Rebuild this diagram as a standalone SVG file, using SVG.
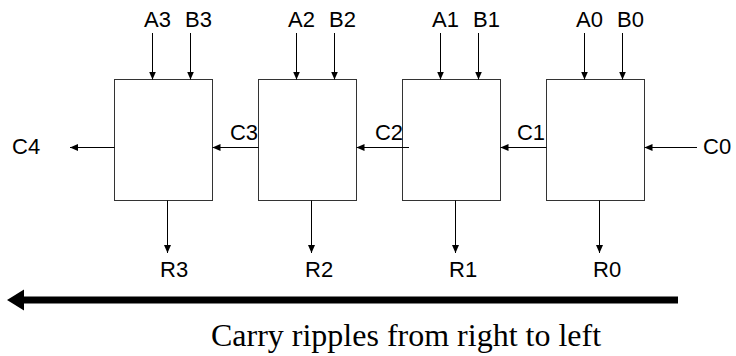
<svg xmlns="http://www.w3.org/2000/svg" width="736" height="356" viewBox="0 0 736 356">
  <defs>
    <marker id="arr" viewBox="0 0 8 8" refX="8" refY="4" markerWidth="8" markerHeight="7" markerUnits="userSpaceOnUse" orient="auto" preserveAspectRatio="none">
      <path d="M0,0 L8,4 L0,8 Z" fill="#000"/>
    </marker>
  </defs>
  <style>
    .box { fill: #fff; stroke: #333; stroke-width: 1; }
    .wire { stroke: #000; stroke-width: 1; fill: none; marker-end: url(#arr); }
    .lbl { font-family: "Liberation Sans", Arial, sans-serif; font-size: 22px; fill: #000; }
    .cap { font-family: "Liberation Serif", "Times New Roman", serif; font-size: 32px; fill: #000; }
  </style>

  <!-- adder stages, most significant on the left -->
  <g id="stage3">
    <rect class="box" x="114.5" y="79.5" width="98" height="121"/>
    <text class="lbl" x="144" y="27">A3</text>
    <text class="lbl" x="185" y="27">B3</text>
    <text class="lbl" x="160" y="277">R3</text>
  </g>
  <g id="stage2">
    <rect class="box" x="258.5" y="79.5" width="98" height="121"/>
    <text class="lbl" x="288" y="27">A2</text>
    <text class="lbl" x="329" y="27">B2</text>
    <text class="lbl" x="305" y="277">R2</text>
  </g>
  <g id="stage1">
    <rect class="box" x="402.5" y="79.5" width="98" height="121"/>
    <text class="lbl" x="432" y="27">A1</text>
    <text class="lbl" x="473" y="27">B1</text>
    <text class="lbl" x="449" y="277">R1</text>
  </g>
  <g id="stage0">
    <rect class="box" x="546.5" y="79.5" width="98" height="121"/>
    <text class="lbl" x="576" y="27">A0</text>
    <text class="lbl" x="617" y="27">B0</text>
    <text class="lbl" x="593" y="277">R0</text>
  </g>

  <!-- carry labels -->
  <g id="carry-labels">
    <text class="lbl" x="12" y="154">C4</text>
    <text class="lbl" x="258" y="140" text-anchor="end">C3</text>
    <text class="lbl" x="403" y="140" text-anchor="end">C2</text>
    <text class="lbl" x="545" y="140" text-anchor="end">C1</text>
    <text class="lbl" x="703" y="154">C0</text>
  </g>

  <!-- signal wires -->
  <g id="connectors">
    <!-- operand inputs -->
    <line class="wire" x1="152.5" y1="33" x2="152.5" y2="79.5"/>
    <line class="wire" x1="190.5" y1="33" x2="190.5" y2="79.5"/>
    <line class="wire" x1="296.5" y1="33" x2="296.5" y2="79.5"/>
    <line class="wire" x1="334.5" y1="33" x2="334.5" y2="79.5"/>
    <line class="wire" x1="440.5" y1="33" x2="440.5" y2="79.5"/>
    <line class="wire" x1="478.5" y1="33" x2="478.5" y2="79.5"/>
    <line class="wire" x1="584.5" y1="33" x2="584.5" y2="79.5"/>
    <line class="wire" x1="622.5" y1="33" x2="622.5" y2="79.5"/>
    <!-- result outputs -->
    <line class="wire" x1="167.5" y1="200.5" x2="167.5" y2="253"/>
    <line class="wire" x1="311.5" y1="200.5" x2="311.5" y2="253"/>
    <line class="wire" x1="455.5" y1="200.5" x2="455.5" y2="253"/>
    <line class="wire" x1="599.5" y1="200.5" x2="599.5" y2="253"/>
    <!-- carry chain -->
    <line class="wire" x1="114.5" y1="147.5" x2="70" y2="147.5"/>
    <line class="wire" x1="258.5" y1="147.5" x2="212.5" y2="147.5"/>
    <line class="wire" x1="409" y1="147.5" x2="356.5" y2="147.5"/>
    <line class="wire" x1="546.5" y1="147.5" x2="500.5" y2="147.5"/>
    <line class="wire" x1="697" y1="147.5" x2="644.5" y2="147.5"/>
  </g>

  <!-- direction of carry propagation -->
  <g id="ripple-arrow">
    <line x1="22" y1="300" x2="678" y2="300" stroke="#000" stroke-width="7"/>
    <polygon points="7,300 24,289.5 24,310.5" fill="#000"/>
    <text class="cap" x="406" y="346" text-anchor="middle">Carry ripples from right to left</text>
  </g>
</svg>
